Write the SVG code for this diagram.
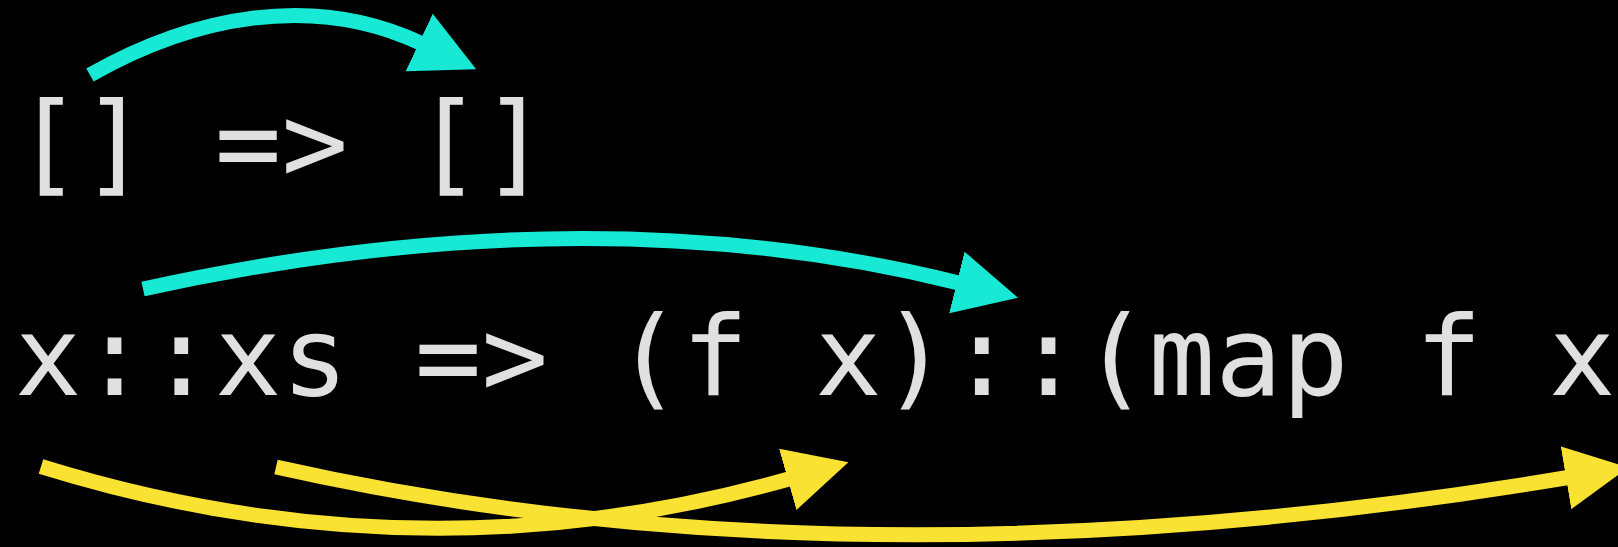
<svg xmlns="http://www.w3.org/2000/svg" width="1618" height="547" viewBox="0 0 1618 547">
  <style>
    .t { fill: #e0e0e0; font-family: "DejaVu Sans Mono", "Liberation Mono", monospace; font-size: 110.8px; }
    .conn { fill: none; stroke-width: 15; stroke-linecap: butt; }
    .cyan { stroke: #17e9d5; }
    .yel { stroke: #f9e231; }
  </style>
  <defs>
    <marker id="head-cyan" markerUnits="userSpaceOnUse" viewBox="0 -32 64 64" markerWidth="64" markerHeight="64" refX="2" refY="0" orient="auto">
      <path d="M0,-31.75 L63,0 L0,31.75 Z" fill="#17e9d5"/>
    </marker>
    <marker id="head-yel" markerUnits="userSpaceOnUse" viewBox="0 -32 64 64" markerWidth="64" markerHeight="64" refX="2" refY="0" orient="auto">
      <path d="M0,-31.75 L63,0 L0,31.75 Z" fill="#f9e231"/>
    </marker>
  </defs>
  <rect width="1618" height="547" fill="#000"/>

  <g id="line1">
    <g id="nil-left"><text class="t" x="14.65" y="181">[]</text></g>
    <g id="arrow-1"><text class="t" x="214.75" y="181">=&gt;</text></g>
    <g id="nil-right"><text class="t" x="414.85" y="181">[]</text></g>
  </g>

  <g id="line2">
    <g id="head-x"><text class="t" x="14.65" y="395">x</text></g>
    <g id="cons-left"><text class="t" x="81.35" y="395">::</text></g>
    <g id="tail-xs"><text class="t" x="214.75" y="395">xs</text></g>
    <g id="arrow-2"><text class="t" x="414.85" y="395">=&gt;</text></g>
    <g id="f-x"><text class="t" x="614.95" y="395">(f x)</text></g>
    <g id="cons-right"><text class="t" x="948.45" y="395">::</text></g>
    <g id="map-f-xs"><text class="t" x="1081.85" y="395">(map f x</text></g>
  </g>

  <g id="connectors">
    <path class="conn cyan" d="M90,75 C192,17 312,-8 421,43.3" marker-end="url(#head-cyan)"/>
    <path class="conn cyan" d="M143,289 Q589,191 958.8,283" marker-end="url(#head-cyan)"/>
    <path class="conn yel" d="M276,467 Q853,597 1568,477.5" marker-end="url(#head-yel)"/>
    <path class="conn yel" d="M41,466.5 Q419,583.7 789.7,478.8" marker-end="url(#head-yel)"/>
  </g>
</svg>
